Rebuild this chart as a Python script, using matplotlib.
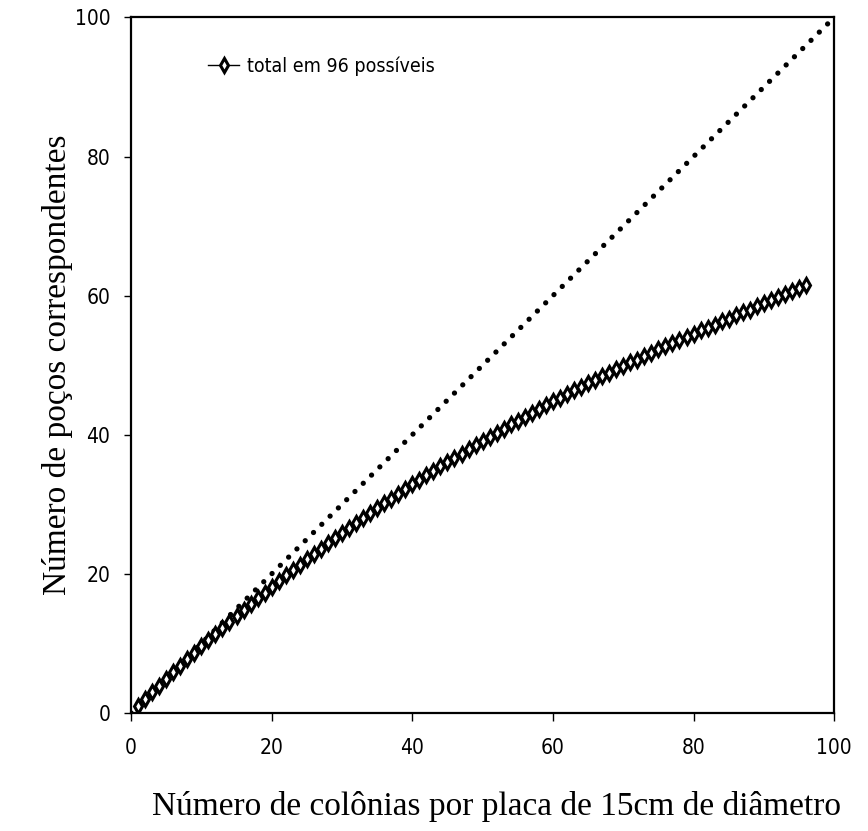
import matplotlib
matplotlib.use("Agg")
import matplotlib.pyplot as plt
from matplotlib import font_manager

# numero de colonias por placa (1..96)
colonias = list(range(1, 97))
# pocos correspondentes
pocos = [1.0, 2.0, 3.0, 3.9, 4.9, 5.9, 6.8, 7.7, 8.6, 9.6,
         10.5, 11.3, 12.2, 13.1, 14.0, 14.8, 15.7, 16.5, 17.3, 18.1,
         19.0, 19.8, 20.6, 21.3, 22.1, 22.9, 23.6, 24.4, 25.1, 25.9,
         26.6, 27.3, 28.1, 28.8, 29.5, 30.2, 30.8, 31.5, 32.2, 32.9,
         33.5, 34.2, 34.8, 35.5, 36.1, 36.7, 37.3, 37.9, 38.5, 39.1,
         39.7, 40.3, 40.9, 41.5, 42.0, 42.6, 43.2, 43.7, 44.3, 44.8,
         45.3, 45.9, 46.4, 46.9, 47.4, 47.9, 48.4, 48.9, 49.4, 49.9,
         50.4, 50.8, 51.3, 51.8, 52.3, 52.7, 53.2, 53.6, 54.1, 54.5,
         55.0, 55.4, 55.8, 56.3, 56.7, 57.2, 57.6, 58.0, 58.5, 58.9,
         59.4, 59.8, 60.2, 60.7, 61.1, 61.5]

# referencia 1:1
ref_x = [0, 100]
ref_y = [0, 100]

xticks = [0, 20, 40, 60, 80, 100]
yticks = [0, 20, 40, 60, 80, 100]

SERIF = ['Liberation Serif', 'DejaVu Serif']
narrow = font_manager.FontProperties(family=['DejaVu Sans'], stretch='condensed', size=15)
legfont = font_manager.FontProperties(family=['DejaVu Sans'], stretch='condensed', size=14)

fig = plt.figure(figsize=(8.68, 8.31), dpi=100)
ax = fig.add_axes([0.151, 0.142, 0.810, 0.837])

ax.plot(ref_x, ref_y, color='black', lw=3.8, linestyle=(0, (0.01, 2.2)),
        dash_capstyle='round', zorder=2)
ax.plot(colonias, pocos, color='black', lw=1.0, marker='d', markersize=7,
        markerfacecolor='white', markeredgecolor='black', markeredgewidth=2.2,
        label='total em 96 possíveis', zorder=3)

ax.set_xlim(0, 100)
ax.set_ylim(0, 100)
ax.set_xticks(xticks)
ax.set_yticks(yticks)
ax.tick_params(axis='x', direction='out', length=6, width=1, pad=12)
ax.tick_params(axis='y', direction='out', length=5, width=1, pad=10)
for lab in ax.get_xticklabels() + ax.get_yticklabels():
    lab.set_fontproperties(narrow)
for sp in ax.spines.values():
    sp.set_linewidth(1.6)

ax.set_xlabel('Número de colônias por placa de 15cm de diâmetro',
              family=SERIF, fontsize=24)
ax.set_ylabel('Número de poços correspondentes', family=SERIF, fontsize=24)
ax.xaxis.set_label_coords(0.52, -0.112)
ax.yaxis.set_label_coords(-0.082, 0.5)

ax.legend(loc='center left', bbox_to_anchor=(0.085, 0.93), frameon=False,
          handlelength=1.6, handletextpad=0.4, prop=legfont)

fig.savefig('out.png', dpi=100)
